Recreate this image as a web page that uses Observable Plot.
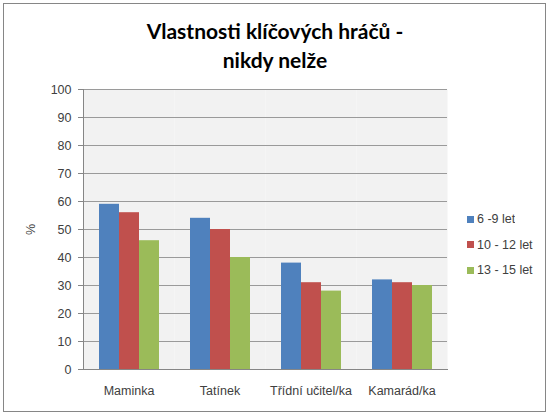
<!DOCTYPE html>
<html>
<head>
<meta charset="utf-8">
<script src="https://cdn.jsdelivr.net/npm/d3@7"></script>
<script src="https://cdn.jsdelivr.net/npm/@observablehq/plot@0.6"></script>
<style>
  html, body { margin: 0; padding: 0; background: #fff; }
  body { width: 550px; height: 416px; position: relative; overflow: hidden; font-family: "Liberation Sans", Arial, sans-serif; }
  #border { position: absolute; left: 3px; top: 3px; width: 543px; height: 409px; border: 1px solid #868686; box-sizing: border-box; }
  #title { position: absolute; left: 0; top: 16px; width: 550px; text-align: center; font-family: "Lato", sans-serif; font-weight: bold; font-size: 21px; line-height: 29px; color: #000; }
  #chart { position: absolute; left: 0; top: 80px; }
  #legend { position: absolute; left: 467px; top: 207px; }
  .lg-swatches { font-family: "Liberation Sans", Arial, sans-serif !important; font-size: 12.5px !important; color: #404040 !important; margin: 0 !important; min-height: 0 !important; }
  .lg-swatch { height: 24.5px !important; margin: 0 !important; display: flex; align-items: center; }
  .lg-swatch svg { margin-right: 3px !important; }
</style>
</head>
<body>
<div id="border"></div>
<div id="title">Vlastnosti klíčových hráčů -<br>nikdy nelže</div>
<div id="chart"></div>
<div id="legend"></div>
<script>
const categories = ["Maminka", "Tatínek", "Třídní učitel/ka", "Kamarád/ka"];
const series = ["6 -9 let", "10 - 12 let", "13 - 15 let"];
const values6to9 = [59, 54, 38, 32];
const values10to12 = [56, 50, 31, 31];
const values13to15 = [46, 40, 28, 30];
const yTicks = [0, 10, 20, 30, 40, 50, 60, 70, 80, 90, 100];
const colors = ["#4F81BD", "#C0504D", "#9BBB59"];

const seriesValues = [values6to9, values10to12, values13to15];
const data = [];
categories.forEach((c, i) => {
  series.forEach((s, j) => {
    data.push({category: c, series: s, value: seriesValues[j][i]});
  });
});

const chart = Plot.plot({
  width: 550,
  height: 336,
  marginTop: 9,
  marginBottom: 47,
  marginLeft: 82,
  marginRight: 102,
  style: {fontFamily: "Liberation Sans, Arial, sans-serif", fontSize: "12.5px", background: "transparent", color: "#404040"},
  fx: {domain: categories, padding: 0, label: null},
  x: {domain: series, paddingInner: 0, paddingOuter: 0.745, axis: null},
  y: {domain: [0, 100], label: null},
  color: {domain: series, range: colors},
  marks: [
    Plot.frame({fill: "#f2f2f2", stroke: null}),
    Plot.gridY(yTicks, {stroke: "#9a9a9a", strokeOpacity: 1}),
    Plot.barY(data, {fx: "category", x: "series", y: "value", fill: "series"}),
    Plot.frame({anchor: "left", stroke: "#868686", strokeOpacity: 1, facetAnchor: "left"}),
    Plot.frame({anchor: "bottom", stroke: "#868686", strokeOpacity: 1}),
    Plot.axisY({ticks: yTicks, tickSize: 5, tickPadding: 7, stroke: "#868686", fill: "#404040", fontSize: 12.5,
      label: "%", labelAnchor: "center", labelArrow: "none", labelOffset: 57}),
    Plot.axisFx({anchor: "bottom", tickSize: 0, tickPadding: 17, fill: "#404040", fontSize: 12.5, label: null})
  ]
});
document.getElementById("chart").appendChild(chart);

const legend = Plot.legend({
  color: {domain: series, range: colors},
  legend: "swatches",
  columns: 1,
  swatchSize: 7,
  className: "lg"
});
document.getElementById("legend").appendChild(legend);
</script>
</body>
</html>
